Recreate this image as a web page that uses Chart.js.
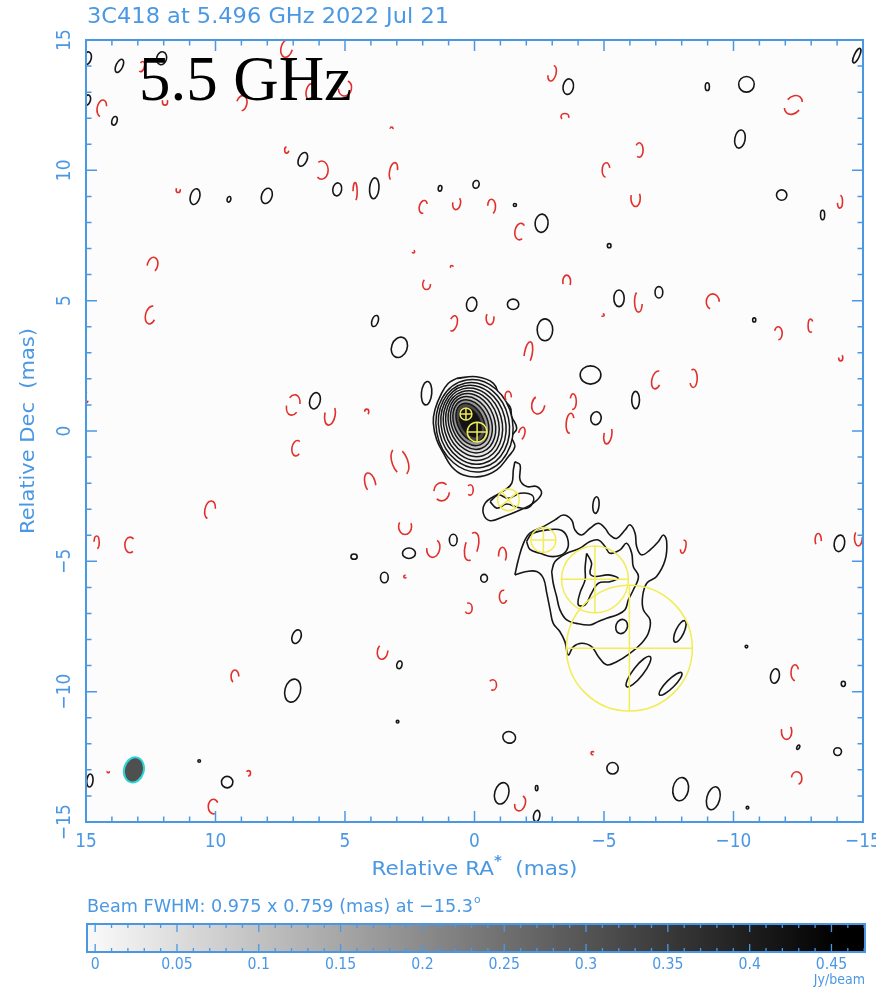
<!DOCTYPE html>
<html>
<head>
<meta charset="utf-8">
<script src="https://cdn.jsdelivr.net/npm/chart.js@4.4.1/dist/chart.umd.min.js"></script>
<style>
  html, body { margin: 0; padding: 0; background: #fff; }
  #map { position: absolute; left: 0; top: 0; }
  #bar { position: absolute; left: 0; top: 890px; }
</style>
</head>
<body>
<canvas id="map" width="876" height="890"></canvas>
<canvas id="bar" width="876" height="99"></canvas>
<script>
// ---- data (all positions in mas, RA offset / Dec offset) ----
const xTicks = [15, 10, 5, 0, -5, -10, -15];
const yTicks = [-15, -10, -5, 0, 5, 10, 15];
const cbTicks = [0, 0.05, 0.1, 0.15, 0.2, 0.25, 0.3, 0.35, 0.4, 0.45];
const cbMax = 0.4705;

// outermost core contour [ra, dec]
const coreOutline = [
  [0.69, 2.02], [-0.08, 2.08], [-0.73, 1.83], [-0.98, 1.32], [-1.37, 0.93], [-1.44, 0.55],
  [-1.63, 0.11], [-1.44, -0.22], [-1.56, -0.6], [-1.31, -0.98], [-0.86, -1.49], [-0.21, -1.75],
  [0.43, -1.69], [0.88, -1.37], [1.2, -0.85], [1.46, -0.34], [1.59, 0.3], [1.53, 0.81],
  [1.27, 1.45], [1.01, 1.83]
];
// inner core contours [ra, dec, rx, ry, tilt, level Jy/beam]
const coreLevels = [
  [0.0, 0.2, 1.48, 1.78, -10, 0.0029],
  [0.02, 0.22, 1.36, 1.65, -12, 0.0052],
  [0.04, 0.24, 1.24, 1.53, -14, 0.0093],
  [0.06, 0.26, 1.12, 1.41, -16, 0.017],
  [0.08, 0.28, 1.0, 1.29, -18, 0.03],
  [0.1, 0.3, 0.88, 1.17, -20, 0.054],
  [0.12, 0.31, 0.76, 1.05, -22, 0.098],
  [0.14, 0.32, 0.64, 0.92, -24, 0.18],
  [0.15, 0.33, 0.5, 0.78, -26, 0.32],
  [0.16, 0.34, 0.36, 0.6, -27, 0.42]
];
const coreOutlineLevel = 0.0016;

// knot near (-1.3, -2.6)
const knotOuter = [
  [-1.56, -1.18], [-1.76, -1.3], [-1.76, -1.88], [-2.02, -2.13], [-2.4, -2.13], [-2.59, -2.39],
  [-2.27, -2.77], [-1.76, -3.03], [-1.11, -3.29], [-0.6, -3.44], [-0.34, -3.16], [-0.41, -2.77],
  [-0.73, -2.52], [-1.18, -2.26], [-1.44, -2.0], [-1.5, -1.49]
];
const knotInner = [
  [-0.6, -2.71], [-0.92, -2.45], [-1.31, -2.58], [-1.76, -2.39], [-2.21, -2.45], [-2.27, -2.71],
  [-2.02, -2.96], [-1.63, -2.92], [-1.24, -2.8], [-0.86, -2.96]
];
// extended jet
const jetOuter = [
  [-1.56, -5.52], [-1.69, -4.95], [-1.89, -4.31], [-2.14, -3.92], [-2.66, -3.67], [-3.11, -3.41],
  [-3.43, -3.22], [-3.75, -3.41], [-3.88, -3.8], [-4.14, -3.99], [-4.46, -3.73], [-4.78, -3.54],
  [-5.04, -3.73], [-5.23, -3.99], [-5.49, -4.12], [-5.81, -3.8], [-6.0, -3.6], [-6.2, -3.92],
  [-6.26, -4.43], [-6.45, -4.75], [-6.78, -4.56], [-7.1, -4.24], [-7.29, -3.99], [-7.42, -4.24],
  [-7.36, -4.95], [-7.03, -5.58], [-6.65, -5.84], [-6.49, -6.35], [-6.52, -6.86], [-6.78, -7.25],
  [-6.71, -7.76], [-6.45, -8.14], [-6.0, -8.53], [-5.49, -8.85], [-5.1, -8.97], [-4.78, -8.65],
  [-4.52, -8.27], [-4.14, -8.14], [-3.82, -8.27], [-3.62, -8.59], [-3.49, -8.08], [-3.3, -7.7],
  [-3.04, -7.38], [-2.92, -6.86], [-2.79, -6.22], [-2.66, -5.65], [-2.4, -5.39], [-2.01, -5.39]
];
const jetInnerA = [
  [-2.01, -4.24], [-2.21, -3.95], [-2.79, -3.8], [-3.37, -3.82], [-3.62, -4.24], [-3.49, -4.66],
  [-3.04, -4.82], [-2.53, -4.69], [-2.14, -4.54]
];
const jetInnerB = [
  [-2.98, -5.39], [-3.11, -5.01], [-3.56, -4.69], [-4.07, -4.5], [-4.46, -4.24], [-4.78, -4.18],
  [-5.04, -4.43], [-5.23, -4.69], [-5.62, -4.56], [-5.87, -4.31], [-6.07, -4.69], [-6.13, -5.2],
  [-6.33, -5.58], [-6.13, -6.1], [-5.94, -6.48], [-5.81, -6.86], [-5.49, -7.06], [-5.1, -7.18],
  [-4.78, -7.31], [-4.46, -7.44], [-3.94, -7.38], [-3.56, -7.25], [-3.3, -6.86], [-3.17, -6.35],
  [-3.04, -5.84]
];
const jetStar = [
  [-4.33, -4.69], [-4.52, -5.07], [-4.46, -5.46], [-4.65, -5.58], [-5.17, -5.52], [-5.55, -5.65],
  [-5.23, -5.78], [-4.78, -5.84], [-4.52, -6.22], [-4.27, -6.67], [-4.01, -6.67], [-4.07, -6.22],
  [-4.27, -5.71], [-4.27, -5.26]
];

// small positive islands [ra, dec, rx, ry, tilt]
const posBlobs = [
  [14.95, 14.3, 0.15, 0.25, 15], [13.71, 14.01, 0.13, 0.27, 25], [12.08, 14.3, 0.19, 0.25, 15],
  [14.95, 12.7, 0.12, 0.2, 15], [13.9, 11.9, 0.1, 0.17, 15], [6.63, 10.42, 0.16, 0.28, 25],
  [10.79, 8.99, 0.18, 0.31, 15], [9.48, 8.89, 0.07, 0.11, 15], [8.02, 9.02, 0.2, 0.3, 20],
  [5.3, 9.27, 0.17, 0.25, 10], [3.87, 9.31, 0.18, 0.4, 5], [1.33, 9.31, 0.07, 0.11, 10],
  [-0.06, 9.46, 0.12, 0.15, 10], [0.11, 4.86, 0.2, 0.27, 10], [3.84, 4.22, 0.12, 0.22, 20],
  [2.9, 3.21, 0.3, 0.4, 20], [1.85, 1.45, 0.2, 0.45, 5], [6.16, 1.16, 0.2, 0.32, 15],
  [-14.76, 14.4, 0.1, 0.3, 25], [-3.62, 13.21, 0.2, 0.3, 10], [-8.99, 13.21, 0.08, 0.15, 0],
  [-10.5, 13.3, 0.3, 0.3, 0], [-10.25, 11.2, 0.2, 0.35, 10], [-1.56, 8.67, 0.06, 0.06, 0],
  [-2.59, 7.97, 0.25, 0.35, 5], [-5.2, 7.11, 0.07, 0.08, 0], [-11.86, 9.05, 0.2, 0.2, 0],
  [-13.44, 8.29, 0.08, 0.18, 0], [-1.49, 4.86, 0.22, 0.2, 0], [-5.58, 5.09, 0.2, 0.32, 0],
  [-7.12, 5.32, 0.15, 0.22, 0], [-10.8, 4.26, 0.06, 0.08, 0], [-2.72, 3.88, 0.3, 0.42, 0],
  [-4.48, 2.15, 0.4, 0.35, 0], [-6.22, 1.19, 0.15, 0.33, 0], [-4.69, 0.49, 0.2, 0.25, 10],
  [14.85, -13.41, 0.12, 0.25, 5], [10.63, -12.66, 0.05, 0.05, 0], [9.55, -13.47, 0.22, 0.22, 0],
  [6.87, -7.89, 0.17, 0.27, 20], [7.02, -9.96, 0.3, 0.45, 15], [4.65, -4.82, 0.12, 0.1, 0],
  [3.48, -5.62, 0.15, 0.2, 0], [2.53, -4.69, 0.25, 0.2, 0], [0.82, -4.18, 0.15, 0.22, 0],
  [2.9, -8.97, 0.1, 0.15, 15], [2.97, -11.15, 0.05, 0.05, 0],
  [-14.09, -4.31, 0.2, 0.32, 10], [-0.37, -5.65, 0.13, 0.15, 0], [-4.69, -2.84, 0.12, 0.32, 5],
  [-10.5, -8.27, 0.05, 0.05, 0], [-11.6, -9.4, 0.17, 0.28, 10], [-14.24, -9.7, 0.08, 0.1, 0],
  [-1.34, -11.75, 0.25, 0.22, 20], [-12.5, -12.13, 0.05, 0.09, 30], [-14.02, -12.3, 0.15, 0.15, 0],
  [-5.33, -12.94, 0.22, 0.22, 0], [-1.05, -13.9, 0.27, 0.42, 15], [-2.4, -13.7, 0.05, 0.1, 0],
  [-2.4, -14.77, 0.12, 0.22, 10], [-7.96, -13.74, 0.3, 0.45, 10], [-9.22, -14.09, 0.25, 0.45, 15],
  [-10.54, -14.45, 0.05, 0.05, 0],
  [-7.93, -7.69, 0.16, 0.45, 25], [-5.68, -7.5, 0.22, 0.28, 20], [-6.33, -9.23, 0.2, 0.73, 38],
  [-7.57, -9.7, 0.16, 0.6, 45]
];

// negative contours [ra, dec, rx, ry, tilt]
const negBlobs = [
  [7.25, 14.68, 0.22, 0.35, 15], [12.85, 13.98, 0.1, 0.2, 15], [14.39, 12.38, 0.18, 0.32, 10],
  [11.95, 12.63, 0.1, 0.13, 0], [8.99, 12.57, 0.2, 0.3, 15], [6.35, 13.02, 0.15, 0.3, 10],
  [5.0, 13.15, 0.25, 0.3, 10], [3.2, 11.61, 0.05, 0.05, 0], [7.25, 10.78, 0.08, 0.12, 0],
  [5.9, 10.01, 0.25, 0.35, 0], [3.13, 9.95, 0.15, 0.35, 10], [11.44, 9.25, 0.08, 0.1, 0],
  [4.61, 9.18, 0.08, 0.35, 0], [1.98, 8.6, 0.15, 0.25, 15], [0.69, 8.74, 0.15, 0.25, 10],
  [12.43, 6.37, 0.2, 0.3, 15], [12.5, 4.45, 0.2, 0.35, 15], [2.36, 6.88, 0.05, 0.05, 0],
  [0.88, 6.3, 0.05, 0.05, 0], [1.85, 5.63, 0.15, 0.2, 0], [0.82, 4.13, 0.15, 0.3, 15],
  [7.0, 1.0, 0.25, 0.4, 15], [5.58, 0.62, 0.2, 0.4, 10], [4.16, 0.74, 0.08, 0.1, 0],
  [15.0, 1.27, 0.1, 0.2, 0],
  [-3.0, 13.72, 0.15, 0.3, 15], [-3.49, 12.06, 0.15, 0.12, 0], [-12.31, 12.51, 0.3, 0.4, 40],
  [-6.36, 10.78, 0.15, 0.28, 0], [-5.08, 10.01, 0.15, 0.28, 0], [-6.22, 8.93, 0.18, 0.32, 0],
  [-0.66, 8.61, 0.15, 0.28, 0], [-1.76, 7.65, 0.2, 0.32, 10], [-14.11, 8.8, 0.1, 0.25, 0],
  [-3.56, 5.73, 0.15, 0.25, 0], [-6.33, 4.96, 0.15, 0.4, 0], [-4.95, 4.45, 0.06, 0.05, 0],
  [-9.2, 4.96, 0.25, 0.3, 0], [-0.6, 4.33, 0.15, 0.25, 0], [-11.73, 3.75, 0.15, 0.25, 0],
  [-12.98, 4.04, 0.1, 0.25, 0], [-14.14, 2.81, 0.08, 0.12, 0], [-2.08, 2.98, 0.15, 0.45, 10],
  [-7.03, 1.96, 0.18, 0.35, 15], [-8.45, 2.02, 0.15, 0.35, 0], [-1.3, 1.32, 0.12, 0.2, 0],
  [-2.46, 1.0, 0.25, 0.35, 10], [-3.81, 1.13, 0.12, 0.3, 0], [-3.69, 0.3, 0.15, 0.38, 5],
  [-5.15, -0.15, 0.15, 0.35, 10], [-1.82, -0.1, 0.12, 0.25, 15],
  [6.87, -0.66, 0.18, 0.3, 10], [2.88, -1.18, 0.3, 0.55, -20], [4.03, -2.0, 0.2, 0.4, -15],
  [1.27, -2.33, 0.3, 0.35, 0], [0.17, -2.26, 0.12, 0.2, 0], [10.21, -3.03, 0.2, 0.35, 10],
  [2.68, -3.67, 0.25, 0.3, 0], [14.59, -4.28, 0.1, 0.25, 0], [13.3, -4.37, 0.2, 0.3, 0],
  [1.59, -4.5, 0.25, 0.35, 10], [0.11, -4.43, 0.25, 0.55, 15], [2.68, -5.59, 0.05, 0.05, 0],
  [0.24, -6.8, 0.15, 0.2, 0], [9.25, -9.42, 0.15, 0.25, 0], [3.55, -8.46, 0.2, 0.3, 10],
  [8.73, -13.13, 0.08, 0.1, 0], [10.08, -14.41, 0.2, 0.28, 0], [14.14, -13.07, 0.04, 0.04, 0],
  [-1.08, -4.76, 0.15, 0.3, 0], [-1.11, -6.36, 0.15, 0.25, 0], [-8.06, -4.44, 0.1, 0.25, 10],
  [-13.27, -4.18, 0.12, 0.25, 0], [-14.82, -4.11, 0.15, 0.3, 0], [-0.7, -9.74, 0.15, 0.2, 0],
  [-12.37, -9.27, 0.15, 0.3, 0], [-12.05, -11.53, 0.2, 0.3, 0], [-12.44, -13.32, 0.2, 0.25, 0],
  [-4.56, -12.36, 0.06, 0.06, 0], [-1.76, -14.28, 0.2, 0.3, 15]
];

// model components [ra, dec, radius, cross rotation]
const components = [
  [0.33, 0.65, 0.23, 0], [-0.1, -0.04, 0.38, 0], [-1.31, -2.64, 0.42, 50],
  [-2.66, -4.18, 0.48, 0], [-4.65, -5.69, 1.29, 0], [-5.98, -8.33, 2.43, 0]
];

// restoring beam: FWHM major, minor (mas), PA (deg), drawn at [ra, dec]
const beamFWHM = [0.975, 0.759, -15.3];
const beamAt = [13.15, -13.0];

// ---- styling helpers ----
const BLUE = '#4a98e4';
const BLACK = '#161616';
const RED = '#e0302c';
const YELLOW = '#f2ec55';

function grayOf(v) {
  const g = Math.max(0, Math.round(248 * (1 - v / 0.455)));
  return 'rgb(' + g + ',' + g + ',' + g + ')';
}

function say(ctx, s, x, y, size, opt) {
  opt = opt || {};
  ctx.save();
  ctx.font = (opt.font || (size + 'px "DejaVu Sans"'));
  ctx.fillStyle = opt.color || BLUE;
  ctx.textBaseline = opt.baseline || 'middle';
  const w = ctx.measureText(s).width;
  const sx = opt.width ? opt.width / w : (opt.sx || 1);
  ctx.translate(x, y);
  if (opt.rot) ctx.rotate(opt.rot);
  ctx.scale(sx, 1);
  const a = opt.align || 'left';
  const dx = a === 'center' ? -w / 2 : a === 'right' ? -w : 0;
  ctx.fillText(s, dx, 0);
  ctx.restore();
}

function ellipseAt(ctx, xs, ys, ra, dec, rx, ry, tiltDeg) {
  const cx = xs.getPixelForValue(ra), cy = ys.getPixelForValue(dec);
  const kx = Math.abs(xs.getPixelForValue(rx) - xs.getPixelForValue(0));
  const ky = Math.abs(ys.getPixelForValue(ry) - ys.getPixelForValue(0));
  ctx.beginPath();
  ctx.ellipse(cx, cy, kx, ky, tiltDeg * Math.PI / 180, 0, Math.PI * 2);
  return Math.PI * (kx + ky);
}

function contourSet(pts, fillColor) {
  const data = pts.map(p => ({ x: p[0], y: p[1] }));
  data.push({ x: pts[0][0], y: pts[0][1] });
  return {
    data: data,
    showLine: true,
    borderColor: BLACK,
    borderWidth: 1.6,
    tension: 0.4,
    pointRadius: 0,
    fill: fillColor ? 'shape' : false,
    backgroundColor: fillColor || 'transparent'
  };
}

function minus(v) { return String(v).replace('-', '\u2212'); }

// ---- main map ----
const mapPlugin = {
  id: 'mapDecor',
  beforeDraw(chart) {
    const { ctx, chartArea: a } = chart;
    ctx.save();
    ctx.fillStyle = '#fff';
    ctx.fillRect(0, 0, chart.width, chart.height);
    ctx.fillStyle = '#fcfcfc';
    ctx.fillRect(a.left, a.top, a.right - a.left, a.bottom - a.top);
    ctx.restore();
  },
  afterDatasetsDraw(chart) {
    const { ctx, chartArea: a } = chart;
    const xs = chart.scales.x, ys = chart.scales.y;
    ctx.save();
    ctx.beginPath();
    ctx.rect(a.left, a.top, a.right - a.left, a.bottom - a.top);
    ctx.clip();

    // core levels, outer to inner
    coreLevels.forEach(l => {
      ellipseAt(ctx, xs, ys, l[0], l[1], l[2], l[3], l[4]);
      ctx.fillStyle = grayOf(l[5]);
      ctx.fill();
      ctx.strokeStyle = BLACK;
      ctx.lineWidth = 1.5;
      ctx.stroke();
    });

    // positive islands
    ctx.strokeStyle = BLACK;
    ctx.lineWidth = 1.6;
    posBlobs.forEach(b => {
      ellipseAt(ctx, xs, ys, b[0], b[1], b[2], b[3], b[4]);
      ctx.stroke();
    });

    // negative contours, dashed
    ctx.strokeStyle = RED;
    ctx.lineWidth = 1.6;
    negBlobs.forEach((b, i) => {
      const per = ellipseAt(ctx, xs, ys, b[0], b[1], b[2], b[3], b[4]);
      const n = per > 50 ? 2 : 1;
      const seg = per / n;
      ctx.setLineDash([seg * 0.68, seg * 0.32]);
      ctx.lineDashOffset = ((i * 0.37) % 1) * seg;
      ctx.stroke();
    });
    ctx.setLineDash([]);

    // model components
    ctx.strokeStyle = YELLOW;
    ctx.lineWidth = 1.5;
    components.forEach(c => {
      const cx = xs.getPixelForValue(c[0]), cy = ys.getPixelForValue(c[1]);
      const r = Math.abs(xs.getPixelForValue(c[2]) - xs.getPixelForValue(0));
      ctx.beginPath();
      ctx.arc(cx, cy, r, 0, Math.PI * 2);
      ctx.stroke();
      ctx.save();
      ctx.translate(cx, cy);
      ctx.rotate(c[3] * Math.PI / 180);
      ctx.beginPath();
      ctx.moveTo(-r, 0); ctx.lineTo(r, 0);
      ctx.moveTo(0, -r); ctx.lineTo(0, r);
      ctx.stroke();
      ctx.restore();
    });

    // beam
    ellipseAt(ctx, xs, ys, beamAt[0], beamAt[1], beamFWHM[1] / 2, beamFWHM[0] / 2, -beamFWHM[2]);
    ctx.fillStyle = '#4f4f4f';
    ctx.fill();
    ctx.strokeStyle = '#2ed3d3';
    ctx.lineWidth = 2;
    ctx.stroke();

    ctx.restore();
  },
  afterDraw(chart) {
    const { ctx, chartArea: a } = chart;
    const xs = chart.scales.x, ys = chart.scales.y;
    ctx.save();
    // frame
    ctx.strokeStyle = BLUE;
    ctx.lineWidth = 2;
    ctx.strokeRect(a.left, a.top, a.right - a.left, a.bottom - a.top);
    // inward ticks on all sides
    ctx.lineWidth = 1.5;
    ctx.beginPath();
    for (let v = -15; v <= 15; v++) {
      const len = v % 5 === 0 ? 11 : 5.5;
      const px = xs.getPixelForValue(v), py = ys.getPixelForValue(v);
      ctx.moveTo(px, a.bottom); ctx.lineTo(px, a.bottom - len);
      ctx.moveTo(px, a.top); ctx.lineTo(px, a.top + len);
      ctx.moveTo(a.left, py); ctx.lineTo(a.left + len, py);
      ctx.moveTo(a.right, py); ctx.lineTo(a.right - len, py);
    }
    ctx.stroke();
    ctx.restore();

    // tick labels
    xTicks.forEach(v => {
      say(ctx, minus(v), xs.getPixelForValue(v), a.bottom + 20, 20, { align: 'center', sx: 0.85 });
    });
    yTicks.forEach(v => {
      say(ctx, minus(v), a.left - 21, ys.getPixelForValue(v), 20, { align: 'center', sx: 0.85, rot: -Math.PI / 2 });
    });

    // axis titles
    ctx.save();
    ctx.font = '20px "DejaVu Sans"';
    const p1 = 'Relative RA', p3 = '  (mas)';
    const w1 = ctx.measureText(p1).width, w3 = ctx.measureText(p3).width;
    ctx.font = '14px "DejaVu Sans"';
    const w2 = ctx.measureText('*').width;
    const tot = w1 + w2 + w3;
    const sx = 206 / tot;
    ctx.translate((a.left + a.right) / 2 - 103, a.bottom + 48);
    ctx.scale(sx, 1);
    ctx.fillStyle = BLUE;
    ctx.textBaseline = 'middle';
    ctx.font = '20px "DejaVu Sans"';
    ctx.fillText(p1, 0, 0);
    ctx.font = 'bold 14px "DejaVu Sans"';
    ctx.fillText('*', w1, -9);
    ctx.font = '20px "DejaVu Sans"';
    ctx.fillText(p3, w1 + w2, 0);
    ctx.restore();
    say(ctx, 'Relative Dec  (mas)', 29, (a.top + a.bottom) / 2, 20, { align: 'center', width: 206, rot: -Math.PI / 2 });

    // plot title
    say(ctx, '3C418 at 5.496 GHz 2022 Jul 21', a.left + 1, 18, 21, { width: 362 });

    // panel label
    say(ctx, '5.5 GHz', 139, 100, 64, { font: '64px "Liberation Serif"', color: '#000', baseline: 'alphabetic', width: 213 });
  }
};

new Chart(document.getElementById('map'), {
  type: 'scatter',
  data: {
    datasets: [
      contourSet(coreOutline, grayOf(coreOutlineLevel)),
      contourSet(knotOuter),
      contourSet(knotInner),
      contourSet(jetOuter),
      contourSet(jetInnerA),
      contourSet(jetInnerB),
      contourSet(jetStar)
    ]
  },
  options: {
    responsive: false,
    animation: false,
    layout: { padding: { left: 86, top: 40, right: 13, bottom: 68 } },
    scales: {
      x: { type: 'linear', min: -15, max: 15, reverse: true, display: false },
      y: { type: 'linear', min: -15, max: 15, display: false }
    },
    plugins: { legend: { display: false }, tooltip: { enabled: false } }
  },
  plugins: [mapPlugin]
});

// ---- colour wedge ----
const barPlugin = {
  id: 'wedge',
  afterDraw(chart) {
    const { ctx, chartArea: a } = chart;
    const xs = chart.scales.x;
    ctx.save();
    const g = ctx.createLinearGradient(xs.getPixelForValue(0), 0, xs.getPixelForValue(0.455), 0);
    g.addColorStop(0, grayOf(0));
    g.addColorStop(0.5, grayOf(0.2275));
    g.addColorStop(1, grayOf(0.455));
    ctx.fillStyle = g;
    ctx.fillRect(a.left, a.top, a.right - a.left, a.bottom - a.top);
    ctx.strokeStyle = BLUE;
    ctx.lineWidth = 2;
    ctx.strokeRect(a.left, a.top, a.right - a.left, a.bottom - a.top);
    ctx.lineWidth = 1.3;
    ctx.beginPath();
    for (let i = 0; i <= 47; i++) {
      const v = i / 100;
      const px = xs.getPixelForValue(v);
      const len = i % 5 === 0 ? 8 : 4;
      ctx.moveTo(px, a.top); ctx.lineTo(px, a.top + len);
      ctx.moveTo(px, a.bottom); ctx.lineTo(px, a.bottom - len);
    }
    ctx.stroke();
    ctx.restore();

    cbTicks.forEach(v => {
      say(ctx, String(v), xs.getPixelForValue(v), a.bottom + 13, 16, { align: 'center', sx: 0.88 });
    });
    say(ctx, 'Jy/beam', a.right, a.bottom + 28, 14, { align: 'right', sx: 0.9 });

    // beam caption with superscript degree mark
    ctx.save();
    ctx.font = '18px "DejaVu Sans"';
    const cap = 'Beam FWHM: ' + beamFWHM[0] + ' x ' + beamFWHM[1] + ' (mas) at ' + minus(beamFWHM[2]);
    const wc = ctx.measureText(cap).width;
    const sx = 386 / wc;
    ctx.translate(a.left, 17);
    ctx.scale(sx, 1);
    ctx.fillStyle = BLUE;
    ctx.textBaseline = 'middle';
    ctx.fillText(cap, 0, 0);
    ctx.font = '11px "DejaVu Sans"';
    ctx.fillText('o', wc + 1, -7);
    ctx.restore();
  }
};

new Chart(document.getElementById('bar'), {
  type: 'scatter',
  data: { datasets: [{ data: [] }] },
  options: {
    responsive: false,
    animation: false,
    layout: { padding: { left: 87, top: 34, right: 11, bottom: 37 } },
    scales: {
      x: { type: 'linear', min: -0.005, max: cbMax, display: false },
      y: { type: 'linear', min: 0, max: 1, display: false }
    },
    plugins: { legend: { display: false }, tooltip: { enabled: false } }
  },
  plugins: [barPlugin]
});
</script>
</body>
</html>
